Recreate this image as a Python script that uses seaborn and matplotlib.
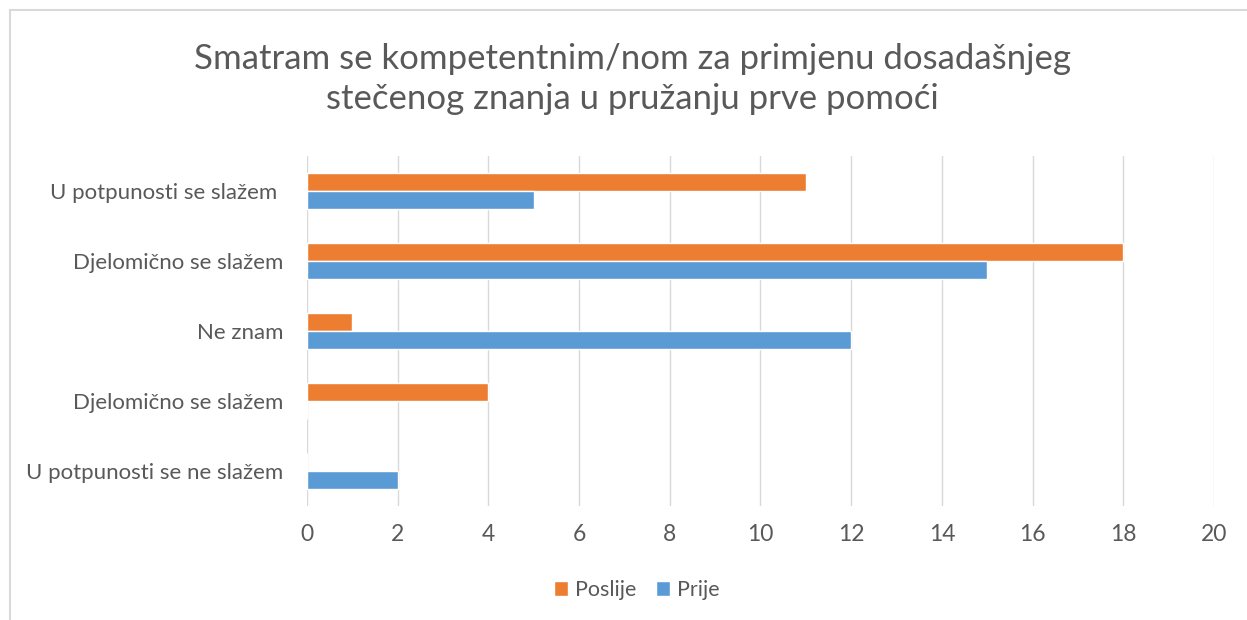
import matplotlib.pyplot as plt
import matplotlib.patches as mpatches
import seaborn as sns
import pandas as pd

# answer categories, top to bottom (the reference repeats one label)
categories = ["U potpunosti se slažem ", "Djelomično se slažem", "Ne znam",
              "Djelomično se slažem", "U potpunosti se ne slažem"]
series = ["Poslije", "Prije"]
poslije = [11, 18, 1, 4, 0]
prije = [5, 15, 12, 0, 2]
x_ticks = [0, 2, 4, 6, 8, 10, 12, 14, 16, 18, 20]

title = "Smatram se kompetentnim/nom za primjenu dosadašnjeg\nstečenog znanja u pružanju prve pomoći"

# unique row keys so the repeated label stays a separate row
keys = [f"r{i}" for i in range(len(categories))]
df = pd.DataFrame({
    "row": keys * 2,
    "serija": [series[0]] * len(keys) + [series[1]] * len(keys),
    "broj": poslije + prije,
})

sns.set_style("white")
plt.rcParams['font.family'] = ['Lato', 'DejaVu Sans']

text_col = "#595959"
fig = plt.figure(figsize=(12.47, 6.2), dpi=100)
ax = fig.add_axes([0.2462, 0.184, 0.7273, 0.564])

sns.barplot(data=df, x="broj", y="row", hue="serija", order=keys,
            hue_order=series, palette=["#ED7D31", "#5B9BD5"],
            orient="h", width=0.52, saturation=1, ax=ax, legend=True)

ax.set_xlim(0, 20)
ax.set_xticks(x_ticks)
ax.set_yticks(range(len(categories)))
ax.set_yticklabels(categories)
ax.set_xlabel("")
ax.set_ylabel("")
ax.tick_params(axis="both", length=0, colors=text_col)
ax.tick_params(axis="x", pad=13, labelsize=16.5)
ax.tick_params(axis="y", pad=17, labelsize=16)
ax.xaxis.grid(True, color="#D9D9D9", linewidth=1)
ax.set_axisbelow(True)
for s in ax.spines.values():
    s.set_visible(False)

leg = ax.legend(loc="center", bbox_to_anchor=(637 / 1247, 30 / 620),
                bbox_transform=fig.transFigure, ncol=2, frameon=False,
                fontsize=15.5, handlelength=0.65, handleheight=0.65,
                handletextpad=0.33, columnspacing=0.9)
for t in leg.get_texts():
    t.set_color(text_col)

fig.text(0.507, 0.873, title, ha="center", va="center", fontsize=25,
         color=text_col, linespacing=1.3)

# chart frame
fig.add_artist(mpatches.Rectangle((10 / 1247, -0.1), 1.2, 1 - 10 / 620 + 0.1,
                                  transform=fig.transFigure, fill=False,
                                  edgecolor="#D9D9D9", linewidth=1.5))

fig.savefig("out.png", dpi=100)
